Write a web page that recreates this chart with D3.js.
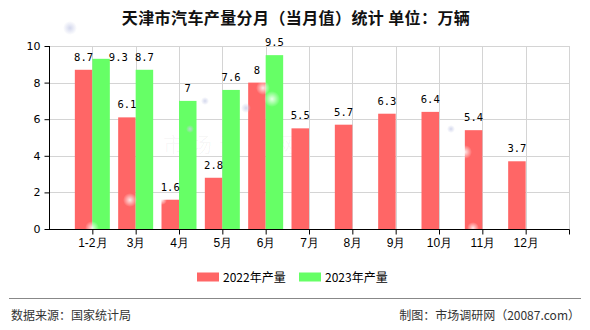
<!DOCTYPE html>
<html>
<head>
<meta charset="utf-8">
<script src="https://cdn.jsdelivr.net/npm/d3@7"></script>
<style>
  html, body { margin: 0; padding: 0; background: #fff; }
  svg { display: block; font-family: "Noto Sans CJK SC", "DejaVu Sans", sans-serif; }
</style>
</head>
<body>
<svg id="chart" width="590" height="330"></svg>
<script>
// Monthly car output of Tianjin, 10k vehicles
const months = ["1-2月", "3月", "4月", "5月", "6月", "7月", "8月", "9月", "10月", "11月", "12月"];
const output2022 = [8.7, 6.1, 1.6, 2.8, 8, 5.5, 5.7, 6.3, 6.4, 5.4, 3.7];
const output2023 = [9.3, 8.7, 7, 7.6, 9.5, null, null, null, null, null, null];
const seriesNames = ["2022年产量", "2023年产量"];
const seriesColors = ["#ff6666", "#66ff66"];
const yTicks = [0, 2, 4, 6, 8, 10];

const svg = d3.select("#chart");
const W = 590, H = 330;
const plot = { left: 49, right: 569, top: 46, bottom: 229 };

const x = d3.scalePoint().domain(months).range([plot.left, plot.right]).padding(1);
const barW = 17.5;
const y = d3.scaleLinear().domain([0, 10]).range([plot.bottom, plot.top]);

// soft background glows
const defs = svg.append("defs");
const glow = defs.append("radialGradient").attr("id", "glowWhite");
glow.append("stop").attr("offset", "0%").attr("stop-color", "#fff").attr("stop-opacity", 0.85);
glow.append("stop").attr("offset", "100%").attr("stop-color", "#fff").attr("stop-opacity", 0);
const glowB = defs.append("radialGradient").attr("id", "glowBlue");
glowB.append("stop").attr("offset", "0%").attr("stop-color", "#c8cde8").attr("stop-opacity", 0.8);
glowB.append("stop").attr("offset", "100%").attr("stop-color", "#c8cde8").attr("stop-opacity", 0);

// title
svg.append("text")
  .attr("x", 296).attr("y", 24)
  .attr("text-anchor", "middle")
  .attr("font-size", 16).attr("font-weight", 700)
  .attr("letter-spacing", 0.4)
  .attr("fill", "#111")
  .text("天津市汽车产量分月（当月值）统计 单位：万辆");

// grid
const grid = svg.append("g").attr("stroke", "#d4d4d4").attr("stroke-width", 1);
yTicks.filter(t => t > 0).forEach(t => {
  grid.append("line")
    .attr("x1", plot.left).attr("x2", plot.right)
    .attr("y1", Math.round(y(t)) + 0.5).attr("y2", Math.round(y(t)) + 0.5);
});
months.forEach(m => {
  grid.append("line")
    .attr("x1", Math.round(x(m)) + 0.5).attr("x2", Math.round(x(m)) + 0.5)
    .attr("y1", plot.top).attr("y2", plot.bottom);
});
grid.append("line")
  .attr("x1", plot.right + 0.5).attr("x2", plot.right + 0.5)
  .attr("y1", plot.top).attr("y2", plot.bottom);

// watermark
svg.append("text")
  .attr("x", 233).attr("y", 152).attr("text-anchor", "middle")
  .attr("font-size", 21).attr("fill", "#000").attr("fill-opacity", 0.035)
  .attr("letter-spacing", 7)
  .text("市场调研网");
svg.append("text")
  .attr("x", 233).attr("y", 184).attr("text-anchor", "middle")
  .attr("font-size", 9).attr("fill", "#000").attr("fill-opacity", 0.03)
  .attr("letter-spacing", 3)
  .text("www.20087.com");

// bars
const series = [output2022, output2023];
const barsG = svg.append("g");
series.forEach((vals, si) => {
  barsG.selectAll(null)
    .data(months.map((m, i) => ({ m, v: vals[i] })).filter(d => d.v != null))
    .join("rect")
    .attr("x", d => x(d.m) + (si === 0 ? -barW : 0))
    .attr("y", d => y(d.v))
    .attr("width", barW)
    .attr("height", d => plot.bottom - y(d.v))
    .attr("fill", seriesColors[si]);
});

// decorative glows
[[70, 28, 7, "glowBlue"], [92, 228, 7, "glowWhite"], [130, 200, 7, "glowWhite"],
 [190, 129, 4, "glowBlue"], [205, 101, 4, "glowBlue"], [246, 108, 5, "glowBlue"],
 [263, 88, 7, "glowWhite"], [272, 99, 8, "glowWhite"], [465, 152, 7, "glowWhite"],
 [473, 228, 6, "glowWhite"], [451, 129, 4, "glowBlue"], [162, 200, 5, "glowWhite"]]
  .forEach(([cx, cy, r, g]) => {
    svg.append("circle").attr("cx", cx).attr("cy", cy).attr("r", r).attr("fill", `url(#${g})`);
  });

// value labels; a label that would collide with an earlier one moves beside its bar
const labelFont = 10.5;
const placed = [];
function overlaps(a, b) {
  const pad = 2;
  return a.x0 < b.x1 + pad && a.x1 + pad > b.x0 && a.y0 < b.y1 + pad && a.y1 + pad > b.y0;
}
const labelsG = svg.append("g")
  .attr("font-family", "'DejaVu Sans Mono', monospace")
  .attr("font-size", labelFont).attr("fill", "#000");
months.forEach((m, i) => {
  series.forEach((vals, si) => {
    const v = vals[i];
    if (v == null) return;
    const txt = String(v);
    const cx = x(m) + (si === 0 ? -barW / 2 : barW / 2);
    const tw = txt.length * 6.2;
    let anchor = "middle", tx = cx, ty = y(v) - 9;
    let box = { x0: cx - tw / 2, x1: cx + tw / 2, y0: ty - 11, y1: ty };
    if (placed.some(p => overlaps(p, box))) {
      tx = cx + barW / 2 - 1; anchor = "start"; ty = y(v) + 2.5;
      box = { x0: tx, x1: tx + tw, y0: ty - 11, y1: ty };
    }
    placed.push(box);
    labelsG.append("text")
      .attr("x", tx).attr("y", ty).attr("text-anchor", anchor)
      .text(txt);
  });
});

// axes
const yAxis = svg.append("g")
  .attr("transform", `translate(${plot.left + 0.5},0)`)
  .call(d3.axisLeft(y).tickValues(yTicks).tickSize(5).tickPadding(4).tickFormat(d3.format("d")));
yAxis.select(".domain").attr("stroke", "#000").attr("d", `M0,${plot.top}V${plot.bottom + 0.5}`);
yAxis.selectAll(".tick line").attr("stroke", "#000");
yAxis.selectAll("text").attr("font-size", 11).attr("font-family", "'DejaVu Sans', sans-serif").attr("fill", "#000");

const xAxis = svg.append("g")
  .attr("transform", `translate(0,${plot.bottom + 0.5})`)
  .call(d3.axisBottom(x).tickSize(5).tickPadding(4));
xAxis.select(".domain").attr("stroke", "#000").attr("d", `M${plot.left},0H${plot.right + 0.5}`);
xAxis.selectAll(".tick line").attr("stroke", "#000");
xAxis.selectAll("text").attr("font-size", 12).attr("fill", "#000");
xAxis.append("line").attr("x1", plot.right + 0.5).attr("x2", plot.right + 0.5).attr("y1", 0).attr("y2", 5).attr("stroke", "#000");

// legend
const legend = svg.append("g").attr("transform", "translate(197,272.5)");
const legendX = [0, 102];
seriesNames.forEach((name, i) => {
  const g = legend.append("g").attr("transform", `translate(${legendX[i]},0)`);
  g.append("rect").attr("width", 22).attr("height", 9).attr("fill", seriesColors[i]);
  g.append("text").attr("x", 26).attr("y", 9.5).attr("font-size", 12).attr("fill", "#000").text(name);
});

// footer
svg.append("line").attr("x1", 9).attr("x2", 581).attr("y1", 298.5).attr("y2", 298.5)
  .attr("stroke", "#888").attr("stroke-width", 1);
svg.append("text").attr("x", 11).attr("y", 320).attr("font-size", 12).attr("fill", "#333")
  .text("数据来源：国家统计局");
svg.append("text").attr("x", 580).attr("y", 320).attr("font-size", 12).attr("fill", "#333")
  .attr("text-anchor", "end").text("制图：市场调研网（20087.com）");
</script>
</body>
</html>
